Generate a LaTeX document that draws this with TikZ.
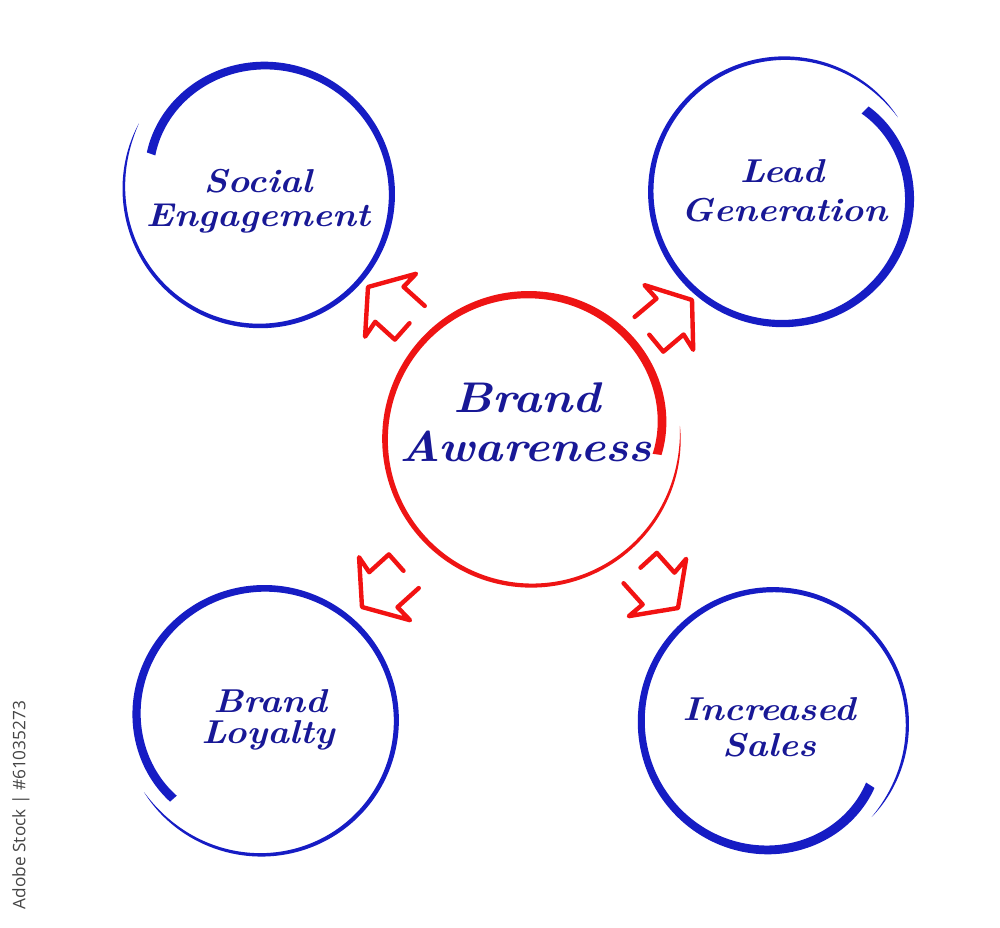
\documentclass[tikz,border=0pt]{standalone}
\usepackage{fontspec}
\newfontfamily\sidefont{Open Sans}
\definecolor{ringblue}{RGB}{22,28,196}
\definecolor{ringred}{RGB}{238,20,20}
\definecolor{textblue}{RGB}{24,24,150}
\definecolor{arrowred}{RGB}{242,18,18}
\definecolor{sidegray}{RGB}{70,70,70}
\newcommand\wide[1]{\scalebox{1.11}[1]{#1}}
% brush-like ring: [style]{cx}{cy}{R}{start}{sweep}{d0}{d1}{w0}
\newcommand\brushring[9][]{%
  \fill[#1,shift={(#2,#3)}]
    plot[domain=0:1,samples=260,variable=\t]
      ({#5+#6*\t}:{#4-#7*p8(1-\t)+#8*p6(\t)+0.5*(2.4+(#9-2.4)*(1-\t))*(1-p32(\t))})
    -- plot[domain=1:0,samples=260,variable=\t]
      ({#5+#6*\t}:{#4-#7*p8(1-\t)+#8*p6(\t)-0.5*(2.4+(#9-2.4)*(1-\t))*(1-p32(\t))})
    -- cycle;}
\tikzset{
  harrowline/.style={draw=arrowred, line width=1.25pt, line join=round, line cap=round},
  pics/harrow/.style={code={
    \draw[harrowline] (-56,-21) -- (-27.5,-22.5) -- (-29,-40.5) -- (0,0)
      -- (-29,40.5) -- (-27.5,22.5) -- (-54,24) -- (-55,2);}},
  biglabel/.style={font=\bfseries\itshape\fontsize{12.2}{14}\selectfont, text=textblue, inner sep=0pt, anchor=base},
  smalllabel/.style={font=\bfseries\itshape\fontsize{9.4}{11}\selectfont, text=textblue, inner sep=0pt, anchor=base},
  sidelabel/.style={font=\sidefont\fontsize{4.9}{6}\selectfont, text=sidegray, inner sep=0pt, rotate=90}
}
\begin{document}
\begin{tikzpicture}[x=0.01cm, y=0.01cm,
  declare function={sq(\u)=\u*\u; p6(\u)=sq(\u)*sq(sq(\u)); p8(\u)=sq(sq(sq(\u))); p32(\u)=sq(sq(sq(sq(sq(\u)))));}]
\useasboundingbox (0,0) rectangle (1000,927);
\fill[white] (0,0) rectangle (1000,927);

% rings
\brushring[ringblue]{261}{733}{131}{160}{-370}{14}{10}{9}
\brushring[ringblue]{783}{735}{132}{45}{-372}{16}{5}{10}
\brushring[ringblue]{264}{207}{132}{221}{-370}{12}{8}{9}
\brushring[ringblue]{773}{205}{132}{-33}{-371}{16}{5}{10}
\brushring[ringred]{531}{488}{146}{-7}{372}{19}{3.5}{9}

% arrows
\pic[rotate=141] at (368,640) {harrow};
\pic[rotate=37, yscale=-1] at (692,627) {harrow};
\pic[rotate=219, yscale=-1] at (362,320) {harrow};
\pic[rotate=-45] at (678,319) {harrow};

% labels
\node[biglabel] (ba1) at (527,514) {\wide{Brand}};
\node[biglabel] (ba2) at (526,465) {\wide{Awareness}};
\node[smalllabel] (se1) at (258,734) {\wide{Social}};
\node[smalllabel] (se2) at (258,700) {\wide{Engagement}};
\node[smalllabel] (lg1) at (782,744) {\wide{Lead}};
\node[smalllabel] (lg2) at (784,705) {\wide{Generation}};
\node[smalllabel] (bl1) at (270,215) {\wide{Brand}};
\node[smalllabel] (bl2) at (268,184) {\wide{Loyalty}};
\node[smalllabel] (is1) at (769,207) {\wide{Increased}};
\node[smalllabel] (is2) at (769,170) {\wide{Sales}};

\node[sidelabel] (stock) at (21,122) {Adobe Stock | \#61035273};
\end{tikzpicture}
\end{document}
